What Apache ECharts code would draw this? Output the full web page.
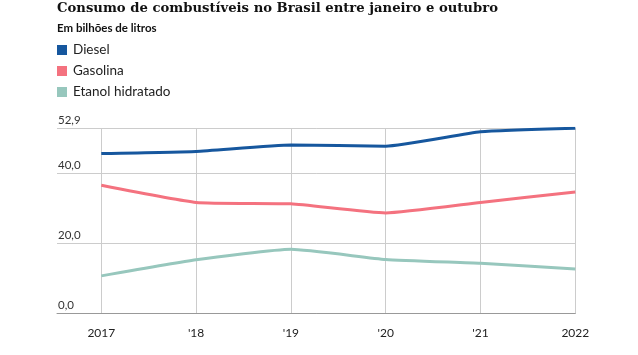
<!DOCTYPE html>
<html>
<head>
<meta charset="utf-8">
<script src="https://cdn.jsdelivr.net/npm/echarts@6/dist/echarts.min.js"></script>
<style>
html,body{margin:0;padding:0;background:#fff;}
#chart{width:638px;height:355px;}
</style>
</head>
<body>
<div id="chart"></div>
<script>
const categories = ['2017', "'18", "'19", "'20", "'21", '2022'];
const diesel = [45.7, 46.3, 48.1, 47.8, 51.9, 52.9];
const gasolina = [36.6, 31.7, 31.3, 28.7, 31.7, 34.7];
const etanol = [10.7, 15.3, 18.3, 15.4, 14.3, 12.7];
const seriesNames = ['Diesel', 'Gasolina', 'Etanol hidratado'];
const yMin = 0, yMax = 52.9, yInterval = 20;

const colors = ['#16579e', '#f4727f', '#97c7bd'];
const chart = echarts.init(document.getElementById('chart'), null, {renderer: 'canvas'});
const fmt = v => v.toFixed(1).replace('.', ',');
const gridTop = 128.3, gridBottom = 41.7, gridRight = 62.7;

chart.setOption({
  animation: false,
  title: {
    text: 'Consumo de combustíveis no Brasil entre janeiro e outubro',
    subtext: 'Em bilhões de litros',
    left: 52, top: 0, padding: [2, 5],
    itemGap: 7,
    textStyle: {fontFamily: 'DejaVu Serif', fontWeight: 'bold', fontSize: 13.2, color: '#111'},
    subtextStyle: {fontFamily: 'Lato', fontWeight: 'bold', fontSize: 11.5, color: '#111'}
  },
  legend: {
    orient: 'vertical', left: 52, top: 38,
    icon: 'rect', itemWidth: 10, itemHeight: 10, itemGap: 7,
    data: seriesNames,
    textStyle: {fontFamily: 'Lato', fontSize: 13.5, color: '#222', lineHeight: 14, padding: [0, 0, 0, 1]}
  },
  grid: [
    {left: 57, right: gridRight, top: gridTop, bottom: gridBottom},
    {left: 101.3, right: gridRight, top: gridTop, bottom: gridBottom}
  ],
  xAxis: [
    {gridIndex: 0, type: 'value', min: 0, max: 1, show: true,
     axisLine: {show: true, lineStyle: {color: '#999', width: 1}},
     axisTick: {show: false}, axisLabel: {show: false}, splitLine: {show: false}, z: 5},
    {gridIndex: 1, type: 'category', data: categories, boundaryGap: false,
     axisLine: {show: false}, axisTick: {show: false},
     axisLabel: {margin: 14, fontFamily: 'Lato', fontSize: 12, color: '#222'},
     splitLine: {show: true, lineStyle: {color: '#cccccc', width: 1}}}
  ],
  yAxis: [
    {gridIndex: 0, type: 'value', min: yMin, max: yMax, interval: yInterval,
     axisLine: {show: false}, axisTick: {show: false},
     axisLabel: {inside: true, margin: 1, verticalAlign: 'bottom', padding: [0, 0, 2, 0],
                 formatter: fmt, fontFamily: 'Lato', fontSize: 11.5, color: '#333'},
     splitLine: {show: true, lineStyle: {color: '#cccccc', width: 1}}},
    {gridIndex: 1, type: 'value', min: yMin, max: yMax, interval: yInterval, show: false,
     splitLine: {show: false}}
  ],
  series: [diesel, gasolina, etanol].map((d, i) => ({
    name: seriesNames[i], type: 'line', xAxisIndex: 1, yAxisIndex: 1,
    data: d, symbol: 'none', smooth: 0.15,
    lineStyle: {color: colors[i], width: 3}, itemStyle: {color: colors[i]}, z: 10
  }))
});
</script>
</body>
</html>
